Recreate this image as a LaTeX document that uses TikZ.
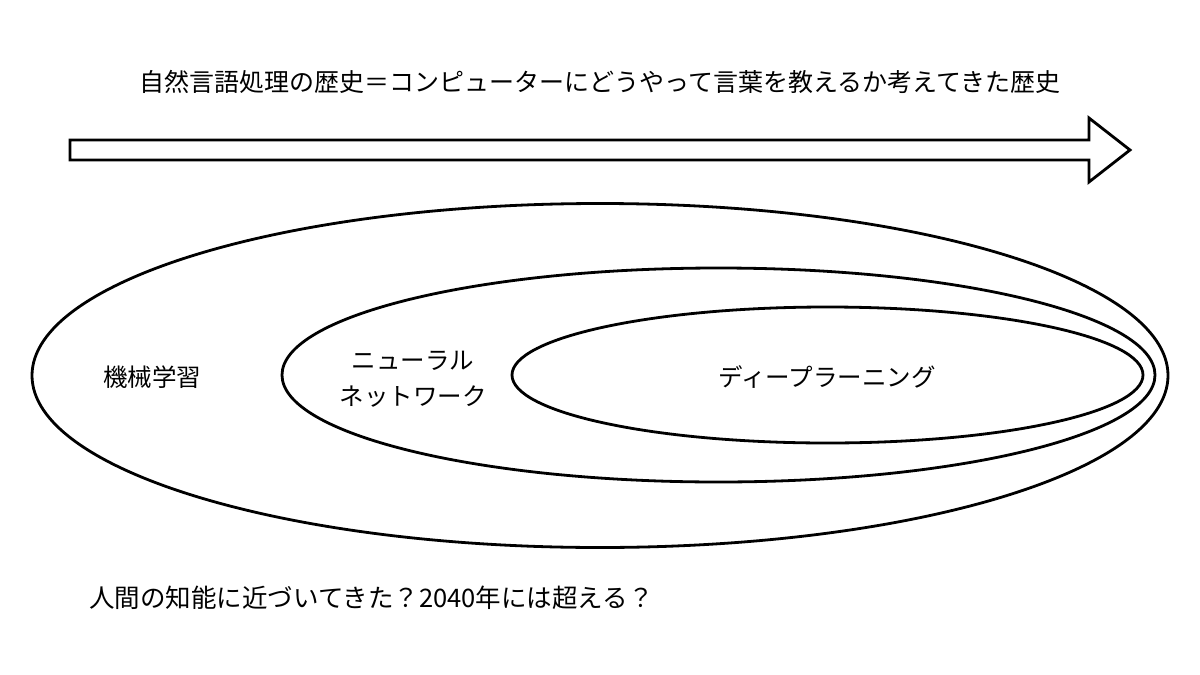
\documentclass[tikz,border=0pt]{standalone}
\usepackage{fontspec}
\setmainfont{Noto Sans CJK JP}
\usepackage{tikz}
\usetikzlibrary{shapes.geometric}

\begin{document}
\begin{tikzpicture}[x=1pt, y=-1pt, line width=2.8pt,
    field/.style={draw, ellipse, inner sep=0pt},
    label/.style={font=\fontsize{24.5}{36}\selectfont, align=center}]
  \useasboundingbox (0,0) rectangle (1200,675);
  \node [label, font=\fontsize{25}{36}\selectfont] (title) at (600,82) {自然言語処理の歴史＝コンピューターにどうやって言葉を教えるか考えてきた歴史};
  % timeline arrow
  \draw [line join=miter] (70,140) -- (1089,140) -- (1089,118) -- (1130,150) -- (1089,182) -- (1089,160) -- (70,160) -- cycle;
  \node [field, minimum width=1136pt, minimum height=344pt] (ml) at (600,375.5) {};
  \node [field, minimum width=873pt, minimum height=214pt] (nn) at (718.5,375) {};
  \node [field, minimum width=631pt, minimum height=136pt] (dl) at (827.5,375) {};
  \node [label] (mlname) at (152,377) {機械学習};
  \node [label] (nnname) at (413,379) {ニューラル\\ネットワーク};
  \node [label] (dlname) at (827,377) {ディープラーニング};
  \node [label, font=\fontsize{25.5}{36}\selectfont, anchor=west, inner sep=0pt] (future) at (88,598) {人間の知能に近づいてきた？2040年には超える？};
\end{tikzpicture}
\end{document}
